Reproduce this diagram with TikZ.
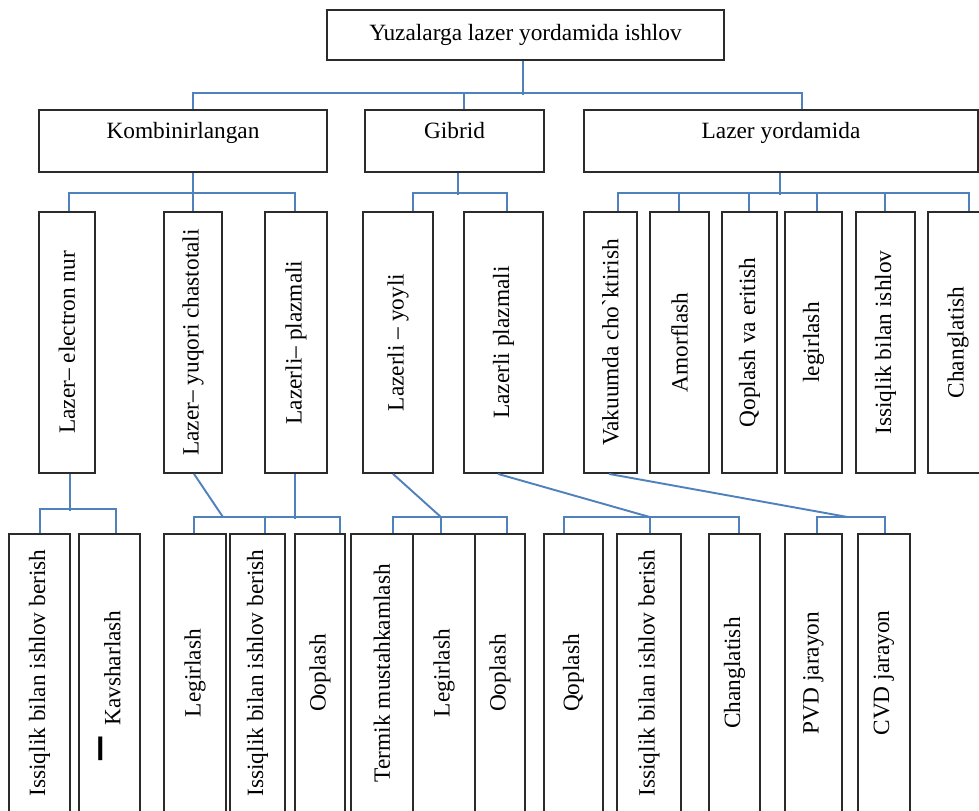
\documentclass[tikz,border=0pt]{standalone}
\usepackage{fontspec}
\setmainfont{Liberation Serif}
\usepackage{graphicx}
\usetikzlibrary{calc}
\definecolor{lblue}{HTML}{4F81BD}
\definecolor{lframe}{HTML}{2B2B2B}
\tikzset{
  boxline/.style={draw=lframe, line width=1.1pt, inner sep=0pt,
                  font=\fontsize{14}{16}\selectfont},
  topbox/.style={boxline, minimum width=#1*0.6pt, minimum height=30pt},
  hbox/.style={boxline, minimum width=#1*0.6pt, minimum height=37.2pt,
               text height=10pt, text depth=13.6pt},
  vbox/.style={boxline, minimum width=#1*0.6pt, minimum height=156.6pt},
  lbox/.style={boxline, minimum width=#1*0.6pt, minimum height=166.8pt},
  conn/.style={lblue, line width=1.15pt},
}

\begin{document}
\begin{tikzpicture}[x=0.6pt, y=-0.6pt]
  \useasboundingbox (0,0) rectangle (979,810);

  %% ── top ──
  \node[topbox=397] (top) at (525.5,35) {Yuzalarga lazer yordamida ishlov};

  %% ── level 1 ──
  \node[hbox=288] (komb)  at (183,141)   {Kombinirlangan};
  \node[hbox=179] (gib)   at (454.5,141) {Gibrid};
  \node[hbox=394] (lyord) at (781,141)   {Lazer yordamida};

  %% ── level 2 ──
  \foreach \n/\x/\w/\t in {lenur/67/56/{Lazer– electron nur},
      lyuq/193/58/{Lazer– yuqori chastotali}, lpla/296/62/{Lazerli– plazmali},
      lyoy/398/70/{Lazerli – yoyli}, lplz/503.5/79/{Lazerli plazmali},
      vak/610.5/53/{Vakuumda cho\textasciigrave ktirish}, amo/679.5/59/{Amorflash},
      qop/749.5/55/{Qoplash va eritish}, leg/813.5/57/{legirlash},
      iss/885.5/59/{Issiqlik bilan ishlov}, cha/958/60/{Changlatish}}{
    \node[vbox=\w] (\n) at (\x,342.5) {\rotatebox{90}{\t}};
  }

  %% ── level 3 ──
  \foreach \n/\x/\w/\t in {iss1/39.5/61/{Issiqlik bilan ishlov berish},
      kav/109.5/61/{\raisebox{0.05em}{\scalebox{1}[3.5]{—}}\hspace{0.5em}Kavsharlash\hspace{15pt}},
      leg1/195/62/{Legirlash}, iss2/257.5/55/{Issiqlik bilan ishlov berish},
      oop1/320/50/{Ooplash}, ter/382/62/{Termik mustahkamlash},
      leg2/444/62/{Legirlash}, oop2/500/50/{Ooplash},
      qop2/573.5/59/{Qoplash}, iss3/649/64/{Issiqlik bilan ishlov berish},
      cha2/734.5/51/{Changlatish}, pvd/813.5/57/{PVD jarayon},
      cvd/884/52/{CVD jarayon}}{
    \node[lbox=\w] (\n) at (\x,673) {\rotatebox{90}{\t}};
  }

  %% ── connectors: top ──
  \draw[conn] ($(top.south)+(-2.5,0)$) -- ++(0,34);
  \draw[conn] ($(komb.north)+(10,0)$) |- ($(lyord.north)+(21,-16)$) -- ($(lyord.north)+(21,0)$);
  \draw[conn] ($(gib.north)+(9.5,0)$) -- ++(0,-16);

  %% ── Kombinirlangan ──
  \draw[conn] ($(komb.south)+(10,0)$) -- ++(0,22);
  \draw[conn] ($(lenur.north)+(2,0)$) |- ($(lpla.north)+(-1,-18)$) -- ($(lpla.north)+(-1,0)$);
  \draw[conn] (lyuq.north) -- ++(0,-18);

  %% ── Gibrid ──
  \draw[conn] ($(gib.south)+(3.5,0)$) -- ++(0,22);
  \draw[conn] ($(lyoy.north)+(15,0)$) |- ($(lplz.north)+(3.5,-18)$) -- ($(lplz.north)+(3.5,0)$);

  %% ── Lazer yordamida ──
  \draw[conn] ($(lyord.south)+(-1,0)$) -- ++(0,22);
  \draw[conn] ($(vak.north)+(7.5,0)$) |- ($(cha.north)+(11,-18)$) -- ($(cha.north)+(11,0)$);
  \foreach \n/\dx in {amo/-0.5, qop/-0.5, leg/3.5, iss/-0.5}
    \draw[conn] ($(\n.north)+(\dx,0)$) -- ++(0,-18);

  %% ── level 3 connectors ──
  \draw[conn] ($(lenur.south)+(3,0)$) -- ++(0,37);
  \draw[conn] ($(iss1.north)+(0.5,0)$) |- ($(kav.north)+(6.5,-24)$) -- ($(kav.north)+(6.5,0)$);

  \draw[conn] ($(lyuq.south)+(1,0)$) -- ($(leg1.north)+(28,-16)$);
  \draw[conn] ($(lpla.south)+(-1,0)$) -- ++(0,45);
  \draw[conn] ($(leg1.north)+(-1,0)$) |- ($(oop1.north)+(20,-16)$) -- ($(oop1.north)+(20,0)$);
  \draw[conn] ($(iss2.north)+(7.5,0)$) -- ++(0,-16);

  \draw[conn] ($(lyoy.south)+(-5,0)$) -- ($(leg2.north)+(-3,-16)$);
  \draw[conn] ($(ter.north)+(11,0)$) |- ($(oop2.north)+(7,-16)$) -- ($(oop2.north)+(7,0)$);
  \draw[conn] ($(leg2.north)+(-3,0)$) -- ++(0,-16);

  \draw[conn] ($(lplz.south)+(-5.5,0)$) -- ($(iss3.north)+(1,-16)$);
  \draw[conn] ($(qop2.north)+(-9.5,0)$) |- ($(cha2.north)+(4.5,-16)$) -- ($(cha2.north)+(4.5,0)$);
  \draw[conn] ($(iss3.north)+(1,0)$) -- ++(0,-16);

  \draw[conn] ($(vak.south)+(-1.5,0)$) -- ($(pvd.north)+(34.5,-16)$);
  \draw[conn] ($(pvd.north)+(3.5,0)$) |- ($(cvd.north)+(1,-16)$) -- ($(cvd.north)+(1,0)$);
\end{tikzpicture}
\end{document}
